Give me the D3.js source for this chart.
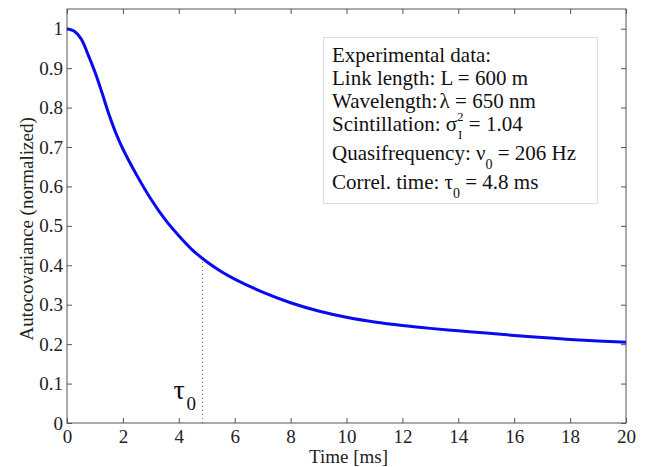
<!DOCTYPE html>
<html><head><meta charset="utf-8">
<script src="https://cdn.jsdelivr.net/npm/d3@7"></script>
<style>body{margin:0;background:#fff}svg{display:block}text{white-space:pre}</style>
</head><body><svg id="c" width="648" height="467"></svg>
<script>
const timeMs = [0,0.25,0.5,0.75,1,1.25,1.5,1.75,2,2.5,3,3.5,4,4.5,5,5.5,6,7,8,9,10,11,12,13,14,15,16,17,18,19,20];
const autocov = [1.0,0.994,0.975,0.935,0.89,0.838,0.783,0.735,0.695,0.628,0.568,0.517,0.475,0.438,0.409,0.385,0.365,0.332,0.305,0.284,0.268,0.256,0.247,0.240,0.234,0.228,0.222,0.217,0.212,0.208,0.205];
const xTicks = [0,2,4,6,8,10,12,14,16,18,20];
const yTicks = [0,0.1,0.2,0.3,0.4,0.5,0.6,0.7,0.8,0.9,1];
const tau0 = 4.85;
const tau0Value = 0.418;
const xLabel = "Time [ms]";
const yLabel = "Autocovariance (normalized)";

const W=648,H=467,m={l:67,t:9,r:22,b:44};
const svg=d3.select("#c");
const x=d3.scaleLinear().domain([0,20]).range([m.l,W-m.r]);
const y=d3.scaleLinear().domain([0,1.05]).range([H-m.b,m.t]);
const font="Liberation Serif, Times New Roman, serif";
const axCol="#555";

const gx=svg.append("g").attr("transform",`translate(0,${H-m.b})`)
  .call(d3.axisBottom(x).tickValues(xTicks).tickSize(-5).tickPadding(7).tickFormat(d3.format("d")));
const gy=svg.append("g").attr("transform",`translate(${m.l},0)`)
  .call(d3.axisLeft(y).tickValues(yTicks).tickSize(-5).tickPadding(4).tickFormat(d=>d===0?"0":d===1?"1":d3.format(".1f")(d)));
const gxt=svg.append("g").attr("transform",`translate(0,${m.t})`)
  .call(d3.axisTop(x).tickValues(xTicks).tickSize(-5).tickFormat(""));
const gyr=svg.append("g").attr("transform",`translate(${W-m.r},0)`)
  .call(d3.axisRight(y).tickValues(yTicks).tickSize(-5).tickFormat(""));
[gx,gy,gxt,gyr].forEach(g=>{
  g.select(".domain").remove();
  g.selectAll("line").attr("stroke",axCol);
  g.selectAll("text").attr("font-family",font).attr("font-size",19).attr("fill","#222");
});
svg.append("rect").attr("x",m.l).attr("y",m.t).attr("width",W-m.r-m.l).attr("height",H-m.b-m.t)
  .attr("fill","none").attr("stroke",axCol).attr("stroke-width",1);

svg.append("text").attr("x",x(10)+2).attr("y",463).attr("text-anchor","middle")
  .attr("font-family",font).attr("font-size",19).attr("fill","#222").text(xLabel);
svg.append("text").attr("transform",`translate(33,${y(0.5)+3}) rotate(-90)`).attr("text-anchor","middle")
  .attr("font-family",font).attr("font-size",19).attr("fill","#222").text(yLabel);

svg.append("line").attr("x1",x(tau0)).attr("x2",x(tau0)).attr("y1",y(0)).attr("y2",y(tau0Value))
  .attr("stroke","#666").attr("stroke-width",1).attr("stroke-dasharray","1,3");
svg.append("text").attr("x",x(tau0)-29).attr("y",399).attr("font-family",font).attr("font-size",28).attr("fill","#111").text("τ");
svg.append("text").attr("x",x(tau0)-16).attr("y",410).attr("font-family",font).attr("font-size",19).attr("fill","#111").text("0");

const pts=timeMs.map((t,i)=>[t,autocov[i]]);
svg.append("path").datum(pts).attr("fill","none").attr("stroke","#0a0af0").attr("stroke-width",3)
  .attr("d",d3.line().x(d=>x(d[0])).y(d=>y(d[1])).curve(d3.curveCatmullRom));

svg.append("rect").attr("x",323.5).attr("y",37.5).attr("width",274).attr("height",166)
  .attr("fill","#fff").attr("stroke","#ddd").attr("stroke-width",1);
const lx=332, LS=21, SS=14;
function measure(t,size){
  const tt=svg.append("text").attr("font-family",font).attr("font-size",size).text(t);
  const w=tt.node().getComputedTextLength(); tt.remove(); return w;
}
function line(base,pieces){
  let cx=lx;
  pieces.forEach(p=>{
    if(p.stack){
      svg.append("text").attr("x",cx).attr("y",base-10).attr("font-family",font).attr("font-size",SS-1).attr("fill","#111").text(p.sup);
      svg.append("text").attr("x",cx+1).attr("y",base+8).attr("font-family",font).attr("font-size",SS-1).attr("fill","#111").text(p.sub);
      cx+=Math.max(measure(p.sup,SS-1),measure(p.sub,SS-1)+1);
      return;
    }
    const size=p.s||LS;
    svg.append("text").attr("x",cx+(p.dx||0)).attr("y",base+(p.dy||0)).attr("font-family",font)
      .attr("font-size",size).attr("fill","#111").text(p.t);
    cx+=(p.dx||0)+measure(p.t,size);
  });
}
line(62,[{t:"Experimental data:"}]);
line(85,[{t:"Link length: L = 600 m"}]);
line(108,[{t:"Wavelength:"},{t:"λ",dx:2},{t:" = 650 nm"}]);
line(131,[{t:"Scintillation: σ"},{stack:true,sup:"2",sub:"I"},{t:" = 1.04"}]);
line(160,[{t:"Quasifrequency: ν"},{t:"0",s:SS,dy:9},{t:" = 206 Hz"}]);
line(189,[{t:"Correl. time: τ"},{t:"0",s:SS,dy:9},{t:" = 4.8 ms"}]);
</script></body></html>
